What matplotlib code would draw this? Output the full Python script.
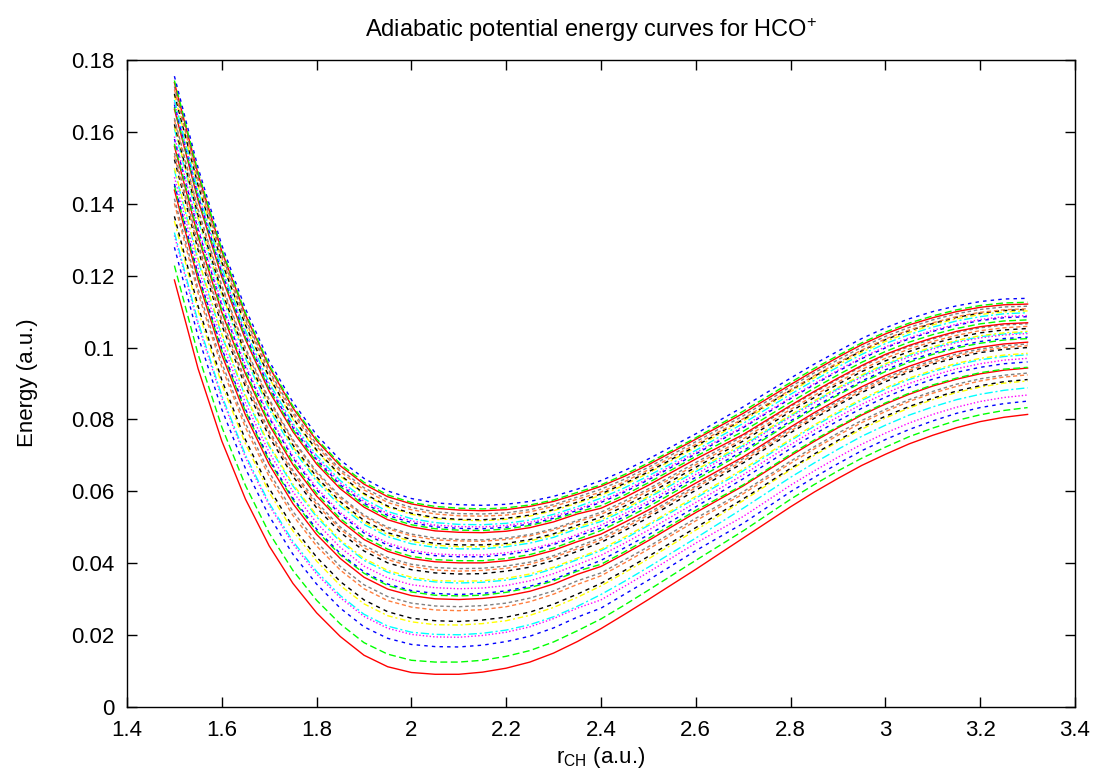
import numpy as np
import matplotlib
matplotlib.use("Agg")
import matplotlib.pyplot as plt
from matplotlib.ticker import FuncFormatter

# r_CH grid (a.u.)
r_grid = [1.5, 1.55, 1.6, 1.65, 1.7, 1.75, 1.8, 1.85, 1.9, 1.95, 2.0, 2.05,
          2.1, 2.15, 2.2, 2.25, 2.3, 2.35, 2.4, 2.45, 2.5, 2.6, 2.7, 2.8,
          2.85, 2.9, 2.95, 3.0, 3.05, 3.1, 3.15, 3.2, 3.25, 3.3]

# adiabatic energies of the 39 levels at each r_CH, in units of 1e-4 hartree
E_r150 = [1188, 1228, 1279, 1312, 1320, 1352, 1365, 1401, 1414, 1438, 1450, 1455, 1474, 1493, 1499, 1523, 1533, 1541, 1560, 1567, 1580, 1587, 1608, 1615, 1621, 1633, 1638, 1663, 1669, 1676, 1682, 1689, 1703, 1706, 1718, 1726, 1737, 1743, 1755]
E_r155 = [941, 981, 1031, 1063, 1071, 1103, 1115, 1151, 1163, 1188, 1199, 1204, 1223, 1242, 1247, 1271, 1281, 1289, 1308, 1315, 1328, 1334, 1355, 1362, 1368, 1380, 1385, 1409, 1416, 1422, 1428, 1435, 1449, 1452, 1464, 1471, 1482, 1488, 1500]
E_r160 = [740, 779, 828, 859, 866, 898, 910, 945, 957, 980, 992, 997, 1015, 1033, 1039, 1062, 1072, 1079, 1098, 1105, 1117, 1123, 1143, 1150, 1156, 1168, 1173, 1196, 1203, 1209, 1215, 1222, 1235, 1238, 1250, 1257, 1268, 1273, 1285]
E_r165 = [578, 616, 663, 694, 701, 732, 743, 777, 789, 812, 823, 828, 846, 863, 868, 891, 901, 908, 926, 933, 945, 951, 970, 977, 982, 994, 999, 1022, 1028, 1034, 1040, 1047, 1059, 1062, 1074, 1080, 1091, 1096, 1108]
E_r170 = [448, 484, 531, 561, 567, 597, 608, 641, 653, 675, 685, 690, 708, 725, 730, 752, 761, 768, 785, 792, 804, 809, 828, 835, 840, 851, 856, 878, 884, 890, 896, 902, 915, 918, 929, 935, 946, 951, 962]
E_r175 = [344, 380, 425, 454, 461, 490, 501, 533, 544, 566, 577, 581, 599, 615, 620, 642, 651, 658, 674, 681, 693, 698, 717, 724, 729, 740, 744, 766, 772, 778, 783, 789, 801, 804, 815, 822, 832, 837, 848]
E_r180 = [262, 297, 342, 370, 377, 406, 417, 448, 459, 480, 490, 495, 512, 529, 534, 554, 563, 570, 587, 594, 604, 610, 628, 635, 640, 651, 655, 676, 682, 688, 693, 700, 712, 715, 725, 731, 741, 746, 757]
E_r185 = [196, 231, 275, 304, 310, 338, 349, 381, 391, 413, 423, 427, 444, 460, 465, 486, 495, 501, 518, 524, 536, 541, 559, 566, 571, 581, 586, 607, 613, 618, 624, 630, 642, 645, 655, 661, 671, 676, 687]
E_r190 = [144, 179, 223, 252, 258, 287, 298, 329, 340, 361, 372, 376, 392, 408, 413, 434, 443, 450, 466, 473, 484, 490, 508, 514, 519, 530, 534, 556, 562, 567, 572, 579, 591, 594, 604, 610, 620, 625, 636]
E_r195 = [112, 147, 191, 219, 225, 254, 265, 296, 307, 328, 338, 342, 359, 375, 380, 401, 410, 416, 433, 439, 450, 456, 474, 480, 485, 496, 500, 521, 527, 533, 538, 544, 556, 559, 569, 576, 585, 590, 601]
E_r200 = [96, 130, 174, 202, 208, 237, 247, 278, 289, 310, 320, 324, 340, 356, 361, 382, 391, 397, 413, 419, 431, 436, 454, 461, 466, 476, 481, 501, 507, 513, 518, 524, 536, 539, 549, 555, 565, 569, 580]
E_r205 = [91, 125, 168, 195, 202, 229, 240, 270, 281, 301, 311, 316, 332, 348, 352, 373, 381, 388, 404, 410, 421, 426, 444, 450, 455, 465, 470, 490, 496, 501, 506, 513, 524, 527, 537, 543, 553, 558, 568]
E_r210 = [91, 125, 167, 194, 201, 228, 238, 268, 279, 299, 309, 313, 329, 345, 350, 370, 378, 385, 401, 407, 418, 423, 440, 446, 451, 462, 466, 486, 492, 497, 502, 508, 520, 522, 532, 538, 548, 553, 563]
E_r215 = [97, 130, 172, 199, 205, 232, 242, 271, 282, 302, 311, 316, 331, 347, 351, 371, 380, 386, 401, 407, 418, 423, 440, 446, 451, 461, 465, 485, 491, 496, 501, 507, 518, 521, 531, 537, 546, 551, 561]
E_r220 = [108, 141, 182, 208, 214, 240, 250, 279, 289, 309, 319, 323, 338, 353, 358, 378, 386, 392, 407, 413, 424, 429, 446, 451, 455, 466, 470, 489, 495, 500, 505, 511, 522, 525, 534, 540, 549, 554, 564]
E_r225 = [125, 157, 197, 223, 229, 255, 264, 293, 303, 322, 332, 336, 351, 365, 370, 389, 397, 403, 418, 424, 434, 439, 456, 462, 466, 476, 480, 499, 505, 509, 514, 520, 531, 534, 543, 549, 558, 562, 572]
E_r230 = [150, 181, 220, 246, 251, 277, 286, 314, 323, 342, 351, 355, 371, 385, 389, 408, 416, 421, 436, 442, 452, 456, 472, 478, 482, 492, 496, 515, 521, 525, 530, 536, 546, 549, 558, 563, 572, 576, 586]
E_r235 = [182, 212, 250, 275, 280, 305, 314, 341, 351, 369, 378, 382, 396, 410, 414, 433, 440, 446, 460, 466, 475, 480, 496, 501, 506, 515, 519, 537, 542, 547, 551, 557, 567, 570, 578, 584, 592, 597, 606]
E_r240 = [218, 245, 275, 298, 313, 337, 344, 365, 373, 391, 397, 408, 422, 435, 439, 458, 465, 471, 481, 491, 498, 506, 516, 521, 528, 536, 542, 553, 560, 569, 573, 581, 589, 593, 598, 606, 614, 618, 630]
E_r245 = [258, 284, 314, 336, 350, 374, 380, 401, 409, 426, 432, 443, 456, 468, 473, 491, 498, 504, 514, 523, 530, 538, 547, 552, 559, 567, 573, 583, 590, 598, 602, 610, 618, 622, 627, 634, 642, 647, 658]
E_r250 = [299, 325, 353, 375, 389, 412, 419, 439, 446, 463, 469, 479, 492, 505, 509, 527, 534, 540, 548, 557, 565, 572, 582, 586, 593, 601, 607, 617, 624, 632, 636, 643, 651, 654, 660, 667, 674, 679, 690]
E_r260 = [383, 408, 435, 456, 470, 492, 499, 518, 525, 541, 547, 557, 569, 581, 586, 603, 610, 615, 623, 632, 639, 647, 655, 660, 667, 674, 680, 690, 697, 704, 708, 714, 722, 726, 731, 738, 745, 749, 760]
E_r270 = [470, 490, 511, 530, 553, 574, 579, 593, 599, 615, 618, 635, 646, 657, 662, 679, 685, 691, 696, 708, 713, 724, 727, 731, 740, 746, 754, 758, 767, 777, 780, 789, 796, 800, 802, 810, 817, 823, 835]
E_r280 = [557, 578, 599, 617, 639, 660, 664, 678, 684, 699, 703, 719, 730, 741, 745, 763, 768, 774, 779, 791, 796, 807, 810, 813, 822, 828, 836, 839, 848, 858, 861, 870, 877, 881, 883, 891, 897, 903, 915]
E_r285 = [598, 619, 639, 657, 679, 700, 704, 718, 724, 739, 743, 759, 770, 781, 785, 803, 808, 814, 819, 831, 835, 846, 849, 852, 861, 867, 875, 878, 887, 897, 900, 909, 916, 920, 922, 930, 936, 942, 954]
E_r290 = [636, 657, 677, 695, 717, 738, 742, 756, 762, 777, 780, 796, 807, 818, 822, 840, 845, 851, 856, 868, 872, 883, 886, 889, 898, 904, 912, 915, 924, 934, 937, 946, 952, 956, 958, 966, 973, 978, 990]
E_r295 = [672, 692, 713, 731, 753, 773, 778, 791, 797, 812, 815, 831, 842, 853, 857, 875, 880, 886, 891, 903, 907, 918, 921, 924, 933, 939, 947, 950, 959, 969, 972, 981, 987, 991, 993, 1001, 1008, 1013, 1025]
E_r300 = [703, 723, 744, 762, 784, 804, 809, 822, 828, 843, 846, 862, 873, 884, 888, 905, 911, 916, 922, 933, 938, 948, 952, 955, 963, 970, 978, 981, 989, 999, 1002, 1011, 1017, 1022, 1024, 1031, 1038, 1043, 1055]
E_r305 = [732, 752, 772, 790, 812, 832, 836, 850, 855, 870, 873, 889, 900, 911, 915, 932, 937, 942, 948, 959, 964, 974, 978, 981, 989, 996, 1003, 1006, 1015, 1024, 1027, 1036, 1042, 1047, 1049, 1056, 1063, 1068, 1080]
E_r310 = [756, 776, 796, 814, 835, 855, 859, 873, 878, 893, 896, 912, 922, 933, 937, 954, 959, 964, 970, 981, 985, 996, 999, 1002, 1011, 1017, 1024, 1027, 1036, 1045, 1048, 1057, 1063, 1067, 1069, 1077, 1083, 1088, 1100]
E_r315 = [777, 797, 817, 834, 855, 875, 879, 892, 898, 912, 915, 931, 941, 952, 956, 972, 977, 982, 988, 999, 1003, 1014, 1017, 1020, 1028, 1034, 1042, 1045, 1053, 1062, 1065, 1074, 1080, 1084, 1086, 1094, 1100, 1105, 1116]
E_r320 = [794, 813, 833, 850, 870, 890, 894, 907, 913, 927, 930, 945, 955, 966, 970, 986, 991, 996, 1001, 1012, 1017, 1027, 1030, 1033, 1041, 1047, 1055, 1058, 1066, 1075, 1078, 1086, 1092, 1096, 1098, 1106, 1112, 1117, 1128]
E_r325 = [806, 825, 844, 861, 881, 901, 905, 918, 923, 937, 940, 955, 965, 975, 979, 995, 1000, 1005, 1010, 1021, 1025, 1035, 1038, 1041, 1049, 1055, 1063, 1066, 1074, 1083, 1086, 1094, 1099, 1103, 1105, 1113, 1119, 1124, 1135]
E_r330 = [814, 833, 851, 868, 888, 907, 911, 924, 929, 943, 945, 960, 970, 980, 984, 1000, 1005, 1010, 1015, 1025, 1029, 1039, 1042, 1045, 1053, 1059, 1066, 1069, 1077, 1086, 1089, 1097, 1102, 1106, 1108, 1115, 1121, 1126, 1137]

rows = [E_r150, E_r155, E_r160, E_r165, E_r170, E_r175, E_r180, E_r185, E_r190,
        E_r195, E_r200, E_r205, E_r210, E_r215, E_r220, E_r225, E_r230, E_r235,
        E_r240, E_r245, E_r250, E_r260, E_r270, E_r280, E_r285, E_r290, E_r295,
        E_r300, E_r305, E_r310, E_r315, E_r320, E_r325, E_r330]
assert len(rows) == len(r_grid)
for k, row in enumerate(rows):
    assert len(row) == 39, (k, len(row))
E = np.array(rows, dtype=float) * 1e-4   # hartree, shape (n_r, n_levels)

x_ticks = [1.4, 1.6, 1.8, 2.0, 2.2, 2.4, 2.6, 2.8, 3.0, 3.2, 3.4]
y_ticks = [0, 0.02, 0.04, 0.06, 0.08, 0.1, 0.12, 0.14, 0.16, 0.18]

plt.rcParams['font.family'] = ['Liberation Sans', 'DejaVu Sans']
plt.rcParams['mathtext.fontset'] = 'custom'
plt.rcParams['mathtext.rm'] = 'Liberation Sans'
plt.rcParams['mathtext.it'] = 'Liberation Sans:italic'
plt.rcParams['mathtext.bf'] = 'Liberation Sans:bold'

# gnuplot-like line type cycle
colors = ['#ff0000', '#00ff00', '#0000ff', '#ff00ff', '#00ffff',
          '#ffff00', '#000000', '#ff7f3f', '#808080']
styles = ['-', (0, (5, 2.5)), (0, (2.5, 3)), (0, (1, 1.5)), (0, (6, 2, 1.5, 2)),
          (0, (4, 2, 1.5, 2)), (0, (3, 3)), (0, (3, 2)), (0, (2.5, 2))]

fig = plt.figure(figsize=(10.96, 7.75), dpi=100)
ax = fig.add_axes([127/1096, 68/775, 948/1096, 647/775])

r = np.array(r_grid)
for j in range(E.shape[1]):
    ax.plot(r, E[:, j], color=colors[j % 9], linestyle=styles[j % 9], lw=1.0)

ax.set_xlim(1.4, 3.4)
ax.set_ylim(0, 0.18)
ax.set_xticks(x_ticks)
ax.set_yticks(y_ticks)
fmt = FuncFormatter(lambda v, p: '%g' % v)
ax.xaxis.set_major_formatter(fmt)
ax.yaxis.set_major_formatter(fmt)
ax.tick_params(direction='in', length=7, width=1, top=True, right=True,
               labelsize=16, pad=9)
for s in ax.spines.values():
    s.set_linewidth(1)

fig.text(591/1096, 1 - 30/775, 'Adiabatic potential energy curves for HCO$^{+}$',
         fontsize=17, ha='center', va='center')
fig.text(601/1096, 1 - 757/775, 'r$_{\\mathrm{CH}}$ (a.u.)',
         fontsize=16, ha='center', va='center')
fig.text(28/1096, 1 - 383/775, 'Energy (a.u.)', fontsize=16,
         ha='center', va='center', rotation=90)

fig.savefig('out.png', dpi=100)
